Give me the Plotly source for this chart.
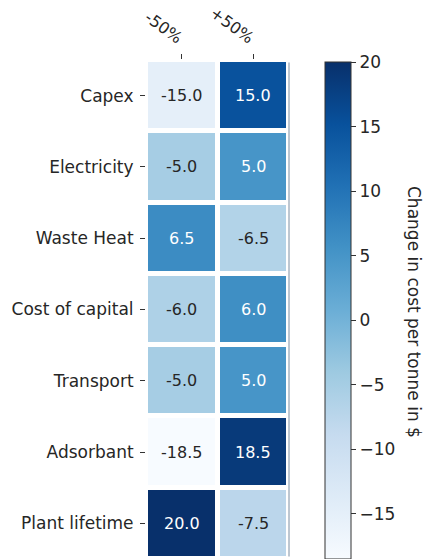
import plotly.graph_objects as go

# Sensitivity of cost per tonne to +/-50% changes in each input
factors = ["Capex", "Electricity", "Waste Heat", "Cost of capital",
           "Transport", "Adsorbant", "Plant lifetime"]
scenarios = ["-50%", "+50%"]
minus_50 = [-15.0, -5.0, 6.5, -6.0, -5.0, -18.5, 20.0]
plus_50 = [15.0, 5.0, -6.5, 6.0, 5.0, 18.5, -7.5]
cbar_ticks = [-15, -10, -5, 0, 5, 10, 15, 20]

# ColorBrewer "Blues" (matplotlib's Blues colormap)
blues = ["#f7fbff", "#deebf7", "#c6dbef", "#9ecae1", "#6baed6",
         "#4292c6", "#2171b5", "#08519c", "#08306b"]
colorscale = [[i / (len(blues) - 1), c] for i, c in enumerate(blues)]

z = [[a, b] for a, b in zip(minus_50, plus_50)]
zmin = min(min(minus_50), min(plus_50))
zmax = max(max(minus_50), max(plus_50))


def hex_rgb(h):
    h = h.lstrip("#")
    return [int(h[i:i + 2], 16) / 255 for i in (0, 2, 4)]


def cmap(v):
    t = (v - zmin) / (zmax - zmin) * (len(blues) - 1)
    i = min(int(t), len(blues) - 2)
    f = t - i
    c0, c1 = hex_rgb(blues[i]), hex_rgb(blues[i + 1])
    return [c0[k] + (c1[k] - c0[k]) * f for k in range(3)]


def luminance(rgb):
    lin = [c / 12.92 if c <= 0.03928 else ((c + 0.055) / 1.055) ** 2.4 for c in rgb]
    return 0.2126 * lin[0] + 0.7152 * lin[1] + 0.0722 * lin[2]


FONT = "DejaVu Sans"
TXT = "#262626"

# plot area: 146..289 px horizontally, 60..559 px vertically
fig = go.Figure(go.Heatmap(
    z=z, x=scenarios, y=factors,
    colorscale=colorscale, zmin=zmin, zmax=zmax,
    xgap=5, ygap=5, hoverinfo="skip",
    colorbar=dict(
        xref="container", x=325 / 425, xanchor="left",
        yref="paper", y=1 - 2 / 499, yanchor="top",
        lenmode="fraction", len=497 / 499, thickness=26,
        xpad=0, ypad=0,
        outlinewidth=1, outlinecolor="#333",
        ticks="outside", ticklen=5, tickwidth=1, tickcolor="#333",
        tickvals=cbar_ticks,
        ticktext=[str(t).replace("-", "\u2212") for t in cbar_ticks],
        tickfont=dict(family=FONT, size=17, color=TXT),
    ),
))

# Cell value labels, light text on dark cells
annotations = []
for r, name in enumerate(factors):
    for c, scen in enumerate(scenarios):
        v = z[r][c]
        col = "white" if luminance(cmap(v)) < 0.408 else TXT
        annotations.append(dict(
            x=scen, y=name, xref="x", yref="y", text=f"{v:.1f}",
            showarrow=False, font=dict(family=FONT, size=16, color=col),
        ))

# Colorbar caption
annotations.append(dict(
    x=(414 - 146) / 143, y=(559 - 312) / 499, xref="paper", yref="paper",
    xanchor="center", yanchor="middle",
    text="Change in cost per tonne in $", textangle=90, showarrow=False,
    font=dict(family=FONT, size=17, color=TXT),
))

fig.update_layout(
    template="none",
    width=425, height=559,
    margin=dict(l=146, r=136, t=60, b=0, autoexpand=False),
    paper_bgcolor="white", plot_bgcolor="white",
    font=dict(family=FONT, size=17, color=TXT),
    annotations=annotations,
    shapes=[dict(type="line", xref="x domain", yref="y domain",
                 x0=1.0, x1=1.0, y0=0.005, y1=0.995,
                 line=dict(color="#7d8fa3", width=1))],
    xaxis=dict(type="category", side="top", ticks="outside", ticklen=5,
               tickcolor="#333", tickangle=36, showgrid=False, zeroline=False,
               showline=False, automargin=False,
               ticklabelstandoff=2, tickfont=dict(family=FONT, size=16, color=TXT)),
    yaxis=dict(type="category", autorange="reversed", ticks="outside", ticklen=5,
               tickcolor="#333", showgrid=False, zeroline=False, showline=False,
               automargin=False,
               ticklabelstandoff=3, tickfont=dict(family=FONT, size=17, color=TXT)),
)

fig.write_html("out.html")
